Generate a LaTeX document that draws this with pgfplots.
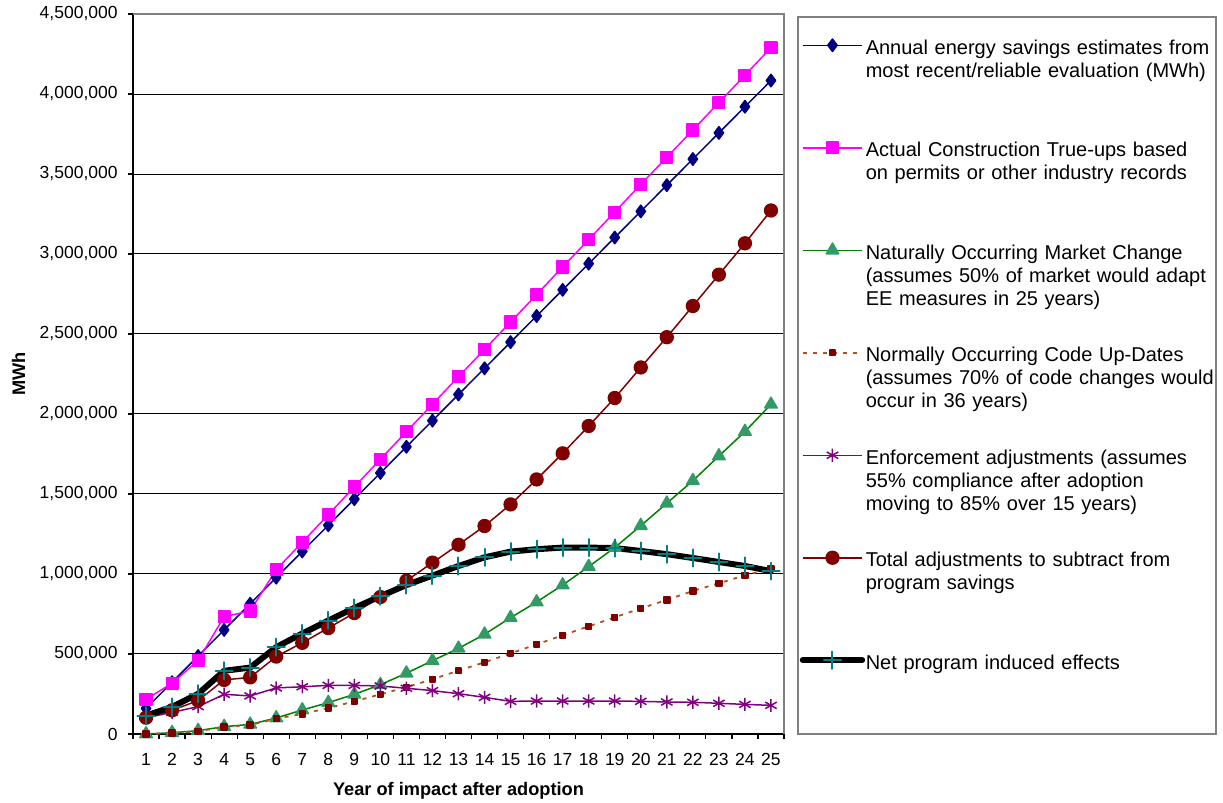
\documentclass[border=0pt]{standalone}
\usepackage{pgfplots}
\usepackage{pgfplotstable}
\usepackage{fontspec}
\pgfplotsset{compat=1.18}
\setmainfont{Liberation Sans}

\definecolor{navyE}{RGB}{0,0,128}
\definecolor{magE}{RGB}{255,0,255}
\definecolor{greenE}{RGB}{0,128,0}
\definecolor{seaE}{RGB}{51,153,102}
\definecolor{brownE}{RGB}{180,80,30}
\definecolor{darkredE}{RGB}{128,0,0}
\definecolor{purpleE}{RGB}{128,0,128}
\definecolor{tealE}{RGB}{0,128,128}

% Savings and adjustments by year after adoption (MWh)
\pgfplotstableread{
year annual  actual  natural normal  enforce total   net
1    160000  217000  0       0       102000  102000  115000
2    323500  317000  8000    5000    135000  148000  169000
3    487000  460000  21000   17000   171000  209000  251000
4    650500  733000  46000   44000   248000  338000  395000
5    814000  769000  60000   56000   238000  354000  415000
6    977500  1027000 100000  96000   288000  484000  543000
7    1141000 1198000 150000  125000  295000  570000  628000
8    1304500 1371000 196000  162000  304000  662000  709000
9    1468000 1544000 248000  204000  304000  756000  788000
10   1631500 1717000 308000  248000  300000  856000  861000
11   1795000 1889000 380000  292000  286000  958000  931000
12   1958500 2061000 458000  342000  271000  1071000 990000
13   2122000 2233000 535000  396000  252000  1183000 1050000
14   2285500 2404000 623000  448000  229000  1300000 1104000
15   2449000 2575000 727000  504000  204000  1435000 1140000
16   2612500 2746000 825000  560000  206000  1591000 1155000
17   2776000 2919000 931000  617000  206000  1754000 1165000
18   2939500 3090000 1046000 673000  206000  1925000 1165000
19   3103000 3262000 1165000 729000  206000  2100000 1162000
20   3266500 3435000 1302000 785000  204000  2291000 1144000
21   3430000 3604000 1442000 838000  200000  2480000 1124000
22   3593500 3775000 1583000 894000  198000  2675000 1100000
23   3757000 3946000 1737000 942000  192000  2871000 1075000
24   3920500 4117000 1890000 992000  185000  3067000 1050000
25   4084000 4290000 2060000 1033000 179000  3272000 1018000
}\savings

\begin{document}
\begin{tikzpicture}
\begin{axis}[
  name=ax,
  scale only axis,
  width=325.5pt, height=360pt,
  xmin=0.5, xmax=25.5,
  ymin=0, ymax=4500000,
  clip=false,
  axis x line*=bottom,
  axis y line*=left,
  axis line style={black, line width=0.75pt},
  xtick={1,...,25},
  minor xtick={0.5,1.5,...,25.5},
  major x tick style={draw=none},
  minor x tick style={black, line width=0.6pt},
  ytick={0,500000,...,4500000},
  y tick style={black, line width=0.6pt},
  tick align=outside,
  major tick length=2.5pt,
  minor tick length=2.5pt,
  scaled y ticks=false,
  ymajorgrids,
  grid style={black, line width=0.5pt},
  /pgf/number format/.cd, fixed, 1000 sep={,}, assume math mode=true,
  /pgfplots/.cd,
  tick label style={font=\fontsize{8.75}{10}\selectfont},
  yticklabel style={inner sep=0pt, xshift=-5pt},
  xticklabel style={inner sep=0pt, yshift=-7pt},
  xlabel={Year of impact after adoption},
  ylabel={MWh},
  every axis x label/.style={at={(axis description cs:0.5,-0.0792)}, anchor=center,
    font=\fontsize{9.1}{11}\selectfont\bfseries},
  every axis y label/.style={at={(axis description cs:-0.1759,0.5)}, rotate=90, anchor=center,
    font=\fontsize{9.1}{11}\selectfont\bfseries},
  legend cell align=left,
  legend image code/.code={%
    \draw[mark repeat=2, mark phase=2, yshift=11.7pt, #1] plot coordinates {(0pt,0pt) (14.85pt,0pt) (29.7pt,0pt)};},
  legend style={
    at={(axis description cs:1.0215,0.99583)}, anchor=north west,
    draw=none, fill=none,
    inner xsep=0.7pt, inner ysep=0pt,
    column sep=0.3pt, row sep=0pt,
    font=\fontsize{10}{11.5}\selectfont,
    nodes={text width=185pt, align=left, inner xsep=0pt, inner ysep=0pt,
           text height=18.3pt, text depth=32.95pt},
  },
  every axis plot/.append style={line join=round},
]
\addplot[navyE, line width=0.75pt, mark=diamond*, mark size=3.1pt,
  mark options={fill=navyE, draw=navyE}] table[x=year, y=annual] {\savings};
\addlegendentry{Annual energy savings estimates from\\most recent/reliable evaluation (MWh)}

\addplot[magE, line width=0.75pt, mark=square*, mark size=2.9pt,
  mark options={fill=magE, draw=magE}] table[x=year, y=actual] {\savings};
\addlegendentry{Actual Construction True-ups based\\on permits or other industry records}

\addplot[greenE, line width=0.75pt, mark=triangle*, mark size=3.6pt,
  mark options={fill=seaE, draw=seaE}] table[x=year, y=natural] {\savings};
\addlegendentry{Naturally Occurring Market Change\\(assumes 50\% of market would adapt\\EE measures in 25 years)}

\addplot[brownE, line width=0.9pt, dash pattern=on 2pt off 3pt, mark=square*, mark size=1.4pt,
  mark options={solid, fill=darkredE, draw=darkredE}] table[x=year, y=normal] {\savings};
\addlegendentry{Normally Occurring Code Up-Dates\\(assumes 70\% of code changes would\\occur in 36 years)}

\addplot[purpleE, line width=0.75pt, mark=asterisk, mark size=3.3pt,
  mark options={draw=purpleE, line width=0.75pt}] table[x=year, y=enforce] {\savings};
\addlegendentry{Enforcement adjustments (assumes\\55\% compliance after adoption\\moving to 85\% over 15 years)}

\addplot[darkredE, line width=0.75pt, mark=*, mark size=3.2pt,
  mark options={fill=darkredE, draw=darkredE}] table[x=year, y=total] {\savings};
\addlegendentry{Total adjustments to subtract from\\program savings}

\addplot[black, line width=3pt, line cap=round, mark=+, mark size=4.3pt,
  mark options={draw=tealE, line width=1pt}] table[x=year, y=net] {\savings};
\addlegendentry{Net program induced effects}

% plot-area frame on the top and right
\draw[gray, line width=0.6pt] (rel axis cs:0,1) -- (rel axis cs:1,1) -- (rel axis cs:1,0);
\end{axis}
% legend frame
\draw[gray, line width=0.6pt] (ax.south west) ++(332.5pt,358.5pt) rectangle ++(209pt,-358.5pt);
\pgfresetboundingbox
\path (ax.south west) ++(-66.5pt,-34.5pt) rectangle ++(611.5pt,401.5pt);
\end{tikzpicture}
\end{document}
